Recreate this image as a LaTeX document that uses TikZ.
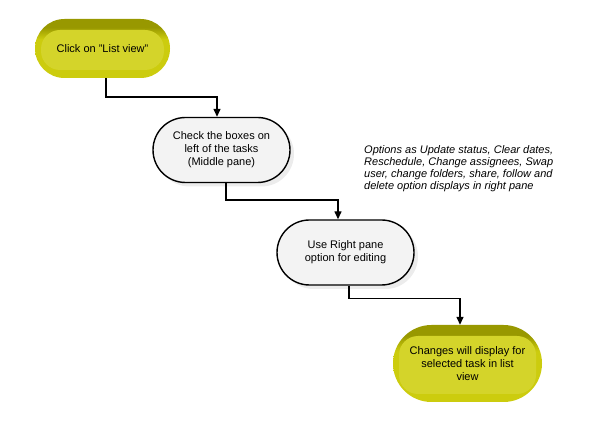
\documentclass[tikz,border=0pt]{standalone}
\usepackage{fontspec}
\setmainfont{Liberation Sans}
\usetikzlibrary{shapes.misc,shadows,arrows.meta}
\definecolor{yl_dark}{RGB}{152,152,0}
\definecolor{yl_base}{RGB}{204,204,14}
\definecolor{yl_light}{RGB}{212,212,42}
\definecolor{wb_fill}{RGB}{243,243,243}
\pgfdeclareverticalshading{ylshade}{100bp}{color(0bp)=(yl_base);
  color(25bp)=(yl_base); color(58bp)=(yl_base); color(68bp)=(yl_dark);
  color(75bp)=(yl_dark); color(100bp)=(yl_dark)}
\tikzstyle{yn}=[rounded rectangle,shading=ylshade,
  draw=none,align=center,inner sep=0pt,
  font=\fontsize{11}{13}\selectfont,
  path picture={\fill[yl_light,rounded corners=19pt]
    ([shift={(6pt,8pt)}]path picture bounding box.south west) rectangle
    ([shift={(-6pt,-11pt)}]path picture bounding box.north east);}]
\tikzstyle{wn}=[rounded rectangle,fill=wb_fill,draw=black,line width=1.4pt,
  align=center,inner sep=0pt,minimum width=137pt,minimum height=65pt,
  font=\fontsize{11}{13}\selectfont,
  drop shadow={shadow xshift=4pt,shadow yshift=-4pt,fill=black!15}]
\tikzstyle{note}=[anchor=north west,inner sep=0pt,align=left,
  font=\fontsize{11}{12}\selectfont\itshape]
\tikzstyle{line}=[line width=1.4pt,-{Triangle[width=7pt,length=8pt]}]

\begin{document}
\begin{tikzpicture}[x=1pt, y=-1pt]
    \useasboundingbox (0, 0) rectangle (600, 443);
    \node [style=yn, minimum width=135pt, minimum height=59pt] (0) at (102.5, 48.5) {Click on "List view"};
    \node [style=wn] (1) at (221.5, 150) {Check the boxes on\\left of the tasks\\(Middle pane)};
    \node [style=wn] (2) at (345.5, 252.5) {Use Right pane\\option for editing};
    \node [style=yn, minimum width=149pt, minimum height=77pt] (3) at (467.5, 363.5) {Changes will display for\\selected task in list\\view};
    \node [style=note] (note) at (364, 145) {Options as Update status, Clear dates,\\Reschedule, Change assignees, Swap\\user, change folders, share, follow and\\delete option displays in right pane};
    \draw [style=line] ([xshift=3.5pt]0.south) -- ++(0, 19) -| ([xshift=-4.5pt]1.north);
    \draw [style=line] ([xshift=4.5pt]1.south) -- ++(0, 17) -| ([xshift=-7.5pt]2.north);
    \draw [style=line] ([xshift=3.5pt]2.south) -- ++(0, 13) -| ([xshift=-7.5pt]3.north);
\end{tikzpicture}
\end{document}
